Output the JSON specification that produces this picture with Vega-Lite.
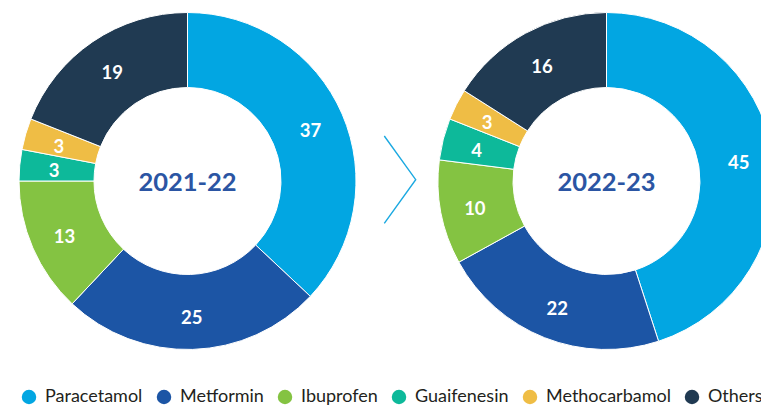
{
  "$schema": "https://vega.github.io/schema/vega-lite/v6.json",
  "padding": 0,
  "background": "white",
  "spacing": 0,
  "config": {"view": {"stroke": null}, "font": "Lato"},
  "datasets": {
    "shares": [
      {"year": "2021-22", "drug": "Paracetamol", "share": 37, "rank": 1},
      {"year": "2021-22", "drug": "Metformin", "share": 25, "rank": 2},
      {"year": "2021-22", "drug": "Ibuprofen", "share": 13, "rank": 3},
      {"year": "2021-22", "drug": "Guaifenesin", "share": 3, "rank": 4},
      {"year": "2021-22", "drug": "Methocarbamol", "share": 3, "rank": 5},
      {"year": "2021-22", "drug": "Others", "share": 19, "rank": 6},
      {"year": "2022-23", "drug": "Paracetamol", "share": 45, "rank": 1},
      {"year": "2022-23", "drug": "Metformin", "share": 22, "rank": 2},
      {"year": "2022-23", "drug": "Ibuprofen", "share": 10, "rank": 3},
      {"year": "2022-23", "drug": "Guaifenesin", "share": 4, "rank": 4},
      {"year": "2022-23", "drug": "Methocarbamol", "share": 3, "rank": 5},
      {"year": "2022-23", "drug": "Others", "share": 16, "rank": 6}
    ],
    "chevron": [
      {"px": 0, "py": 0, "step": 1},
      {"px": 1, "py": 1, "step": 2},
      {"px": 0, "py": 2, "step": 3}
    ]
  },
  "hconcat": [
    {
      "width": 375, "height": 362,
      "data": {"name": "shares"},
      "transform": [{"filter": "datum.year === '2021-22'"}],
      "layer": [
        {
          "mark": {"type": "arc", "innerRadius": 93.5, "outerRadius": 168.5, "stroke": "white", "strokeWidth": 1},
          "encoding": {
            "theta": {"field": "share", "type": "quantitative", "stack": true},
            "order": {"field": "rank", "type": "quantitative"},
            "color": {
              "field": "drug", "type": "nominal",
              "scale": {"domain": ["Paracetamol", "Metformin", "Ibuprofen", "Guaifenesin", "Methocarbamol", "Others"],
                        "range": ["#02a6e2", "#1c55a5", "#84c342", "#0db99a", "#efbd45", "#203a52"]},
              "legend": {"orient": "none", "legendX": 20, "legendY": 388, "direction": "horizontal", "title": null,
                         "symbolType": "circle", "symbolSize": 210, "symbolStrokeWidth": 0, "symbolOpacity": 1,
                         "labelFont": "Lato", "labelFontSize": 18, "labelColor": "#231f20", "labelOffset": 7,
                         "columnPadding": 12, "padding": 0}
            }
          }
        },
        {
          "mark": {"type": "text", "radius": 134, "font": "Lato", "fontWeight": "bold", "fontSize": 18.5, "color": "white", "dy": 3},
          "encoding": {
            "theta": {"field": "share", "type": "quantitative", "stack": true},
            "order": {"field": "rank", "type": "quantitative"},
            "detail": {"field": "drug", "type": "nominal"},
            "text": {"field": "share", "type": "quantitative"}
          }
        },
        {
          "transform": [{"aggregate": [{"op": "count", "as": "n"}], "groupby": ["year"]}],
          "mark": {"type": "text", "font": "Lato", "fontWeight": "bold", "fontSize": 25.5, "color": "#2b55a3", "dy": 2},
          "encoding": {"text": {"field": "year", "type": "nominal"}}
        }
      ]
    },
    {
      "width": 43, "height": 362,
      "data": {"name": "chevron"},
      "mark": {"type": "line", "color": "#1ba9e1", "strokeWidth": 1.4},
      "encoding": {
        "x": {"field": "px", "type": "quantitative", "scale": {"domain": [-0.296, 1.073], "nice": false, "zero": false}, "axis": null},
        "y": {"field": "py", "type": "quantitative", "scale": {"domain": [-3.116, 5.177], "nice": false, "zero": false, "reverse": true}, "axis": null},
        "order": {"field": "step", "type": "quantitative"}
      }
    },
    {
      "width": 375, "height": 362,
      "data": {"name": "shares"},
      "transform": [{"filter": "datum.year === '2022-23'"}],
      "layer": [
        {
          "mark": {"type": "arc", "innerRadius": 93.5, "outerRadius": 168.5, "stroke": "white", "strokeWidth": 1},
          "encoding": {
            "theta": {"field": "share", "type": "quantitative", "stack": true},
            "order": {"field": "rank", "type": "quantitative"},
            "color": {
              "field": "drug", "type": "nominal",
              "scale": {"domain": ["Paracetamol", "Metformin", "Ibuprofen", "Guaifenesin", "Methocarbamol", "Others"],
                        "range": ["#02a6e2", "#1c55a5", "#84c342", "#0db99a", "#efbd45", "#203a52"]},
              "legend": {"orient": "none", "legendX": 20, "legendY": 388, "direction": "horizontal", "title": null,
                         "symbolType": "circle", "symbolSize": 210, "symbolStrokeWidth": 0, "symbolOpacity": 1,
                         "labelFont": "Lato", "labelFontSize": 18, "labelColor": "#231f20", "labelOffset": 7,
                         "columnPadding": 12, "padding": 0}
            }
          }
        },
        {
          "mark": {"type": "text", "radius": 134, "font": "Lato", "fontWeight": "bold", "fontSize": 18.5, "color": "white", "dy": 3},
          "encoding": {
            "theta": {"field": "share", "type": "quantitative", "stack": true},
            "order": {"field": "rank", "type": "quantitative"},
            "detail": {"field": "drug", "type": "nominal"},
            "text": {"field": "share", "type": "quantitative"}
          }
        },
        {
          "transform": [{"aggregate": [{"op": "count", "as": "n"}], "groupby": ["year"]}],
          "mark": {"type": "text", "font": "Lato", "fontWeight": "bold", "fontSize": 25.5, "color": "#2b55a3", "dy": 2},
          "encoding": {"text": {"field": "year", "type": "nominal"}}
        }
      ]
    }
  ]
}
